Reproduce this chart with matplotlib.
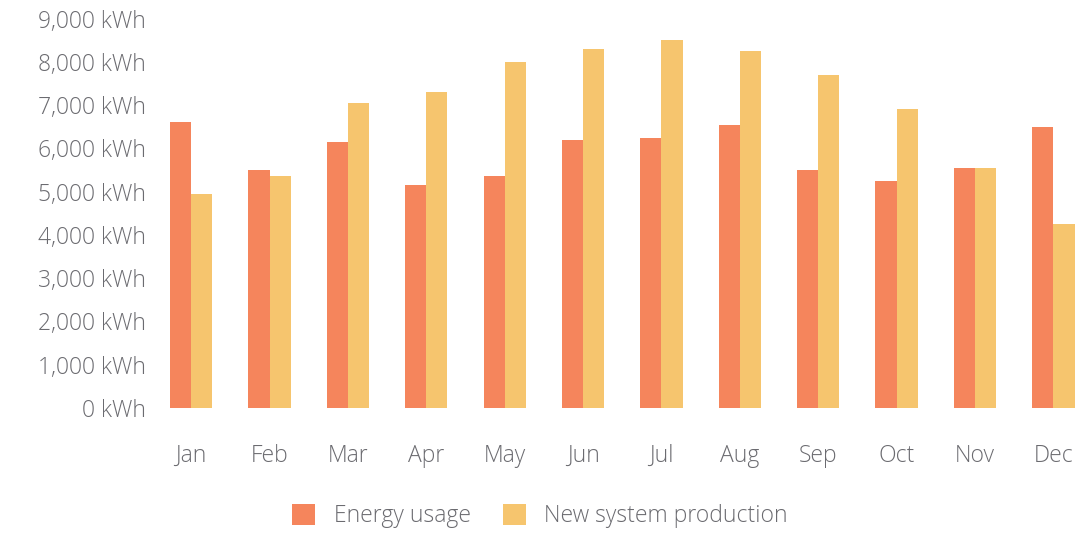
"""Monthly energy usage vs. new system production (bar chart)."""

import matplotlib

matplotlib.use("Agg")
import matplotlib.pyplot as plt
import numpy as np

MONTHS = ["Jan", "Feb", "Mar", "Apr", "May", "Jun",
          "Jul", "Aug", "Sep", "Oct", "Nov", "Dec"]
USAGE = [6600, 5500, 6150, 5150, 5350, 6200, 6250, 6550, 5500, 5250, 5550, 6500]
PRODUCTION = [4950, 5350, 7050, 7300, 8000, 8300, 8500, 8250, 7700, 6900, 5550, 4250]
Y_TICKS = [0, 1000, 2000, 3000, 4000, 5000, 6000, 7000, 8000, 9000]

USAGE_COLOR = "#F5855C"
PROD_COLOR = "#F6C56E"
TEXT_COLOR = "#6b6b70"

plt.rcParams["font.family"] = ["Open Sans", "DejaVu Sans"]
plt.rcParams["font.weight"] = "light"

fig = plt.figure(figsize=(10.8, 5.33), dpi=100)
ax = fig.add_axes([0.148, 0.235, 0.852, 0.73])

x = np.arange(len(MONTHS))
w = 0.27
ax.bar(x - w / 2, USAGE, width=w, color=USAGE_COLOR, label="Energy usage")
ax.bar(x + w / 2, PRODUCTION, width=w, color=PROD_COLOR, label="New system production")

ax.set_xlim(-0.4, 11.34)
ax.set_ylim(0, 9000)
ax.set_yticks(Y_TICKS)
ax.set_yticklabels([f"{v:,} kWh" for v in Y_TICKS])
ax.set_xticks(x)
ax.set_xticklabels(MONTHS)
ax.tick_params(axis="both", length=0, colors=TEXT_COLOR, labelsize=16.5)
ax.tick_params(axis="x", pad=26)
ax.tick_params(axis="y", pad=10)
for s in ax.spines.values():
    s.set_visible(False)

fig.legend(loc="lower center", bbox_to_anchor=(0.5, -0.03), ncol=2, frameon=False,
           fontsize=16.5, labelcolor=TEXT_COLOR, handlelength=1.0, handleheight=1.0,
           columnspacing=1.4, handletextpad=0.8)

fig.savefig("out.png", dpi=100)
